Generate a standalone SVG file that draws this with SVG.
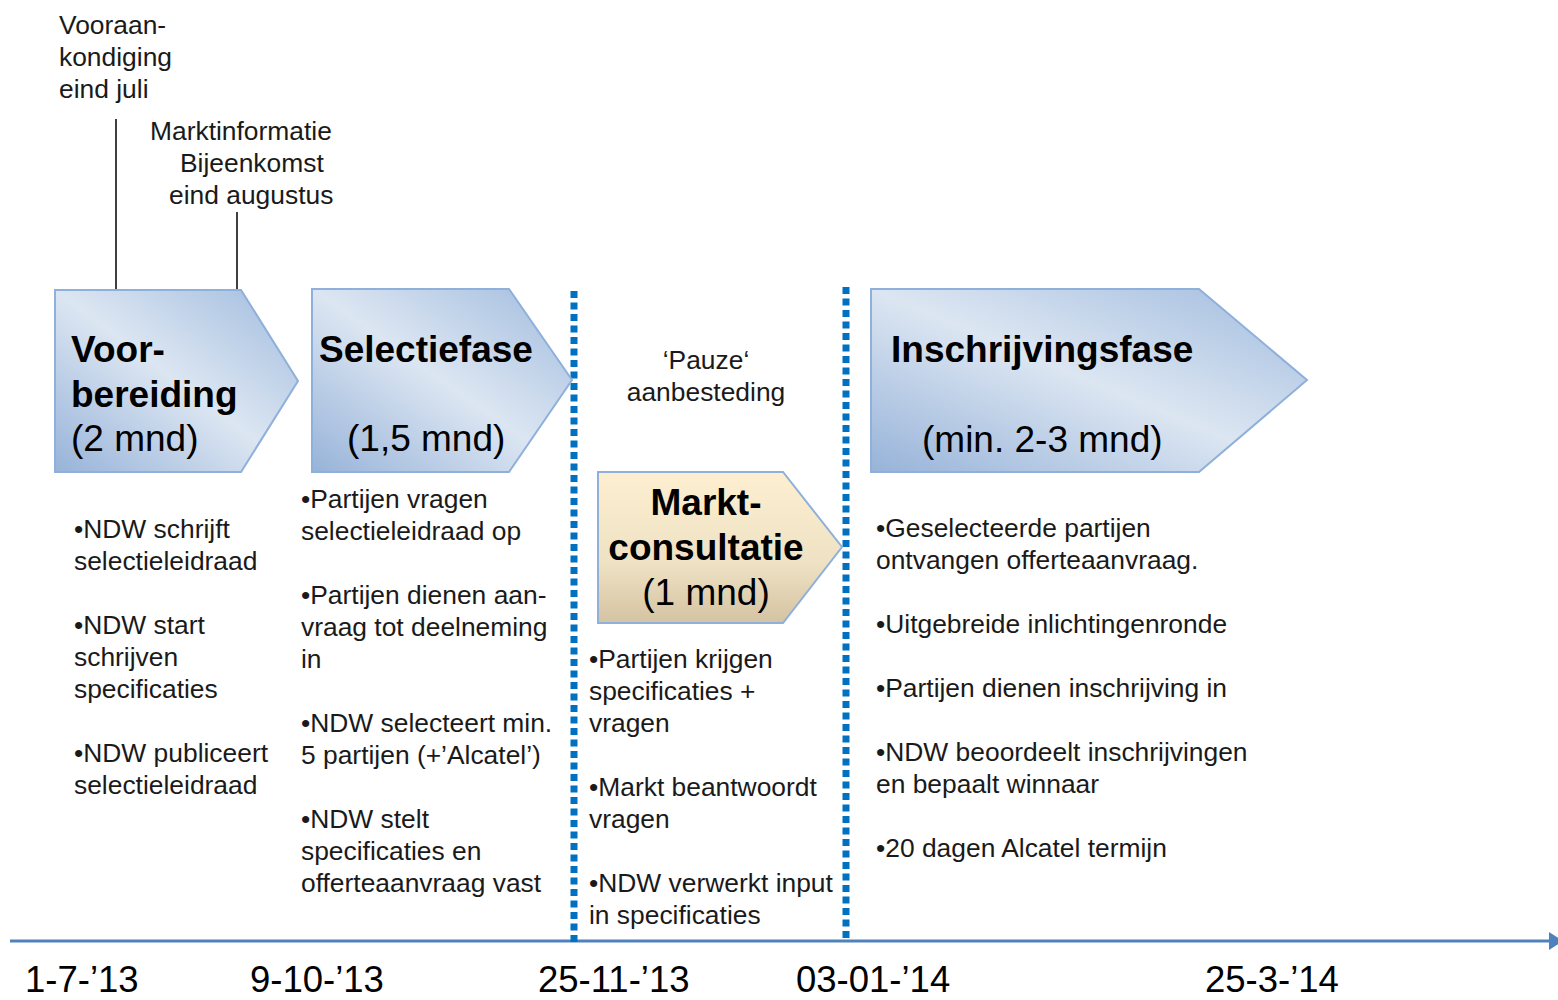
<svg xmlns="http://www.w3.org/2000/svg" width="1558" height="1000" viewBox="0 0 1558 1000">
  <defs>
    <linearGradient id="gBlue" x1="0" y1="1" x2="1" y2="0">
      <stop offset="0" stop-color="#97b3d9"/>
      <stop offset="0.5" stop-color="#dce6f2"/>
      <stop offset="1" stop-color="#a0bbde"/>
    </linearGradient>
    <linearGradient id="gSand" x1="0" y1="0" x2="0" y2="1">
      <stop offset="0" stop-color="#fdefd0"/>
      <stop offset="0.6" stop-color="#efe2c4"/>
      <stop offset="1" stop-color="#d4c3a2"/>
    </linearGradient>
    <style>
      .chev { stroke: #8fb0da; stroke-width: 2; }
      .title { font-family: "Liberation Sans", Arial, sans-serif; font-size: 37px; font-weight: bold; fill: #000; }
      .sub { font-family: "Liberation Sans", Arial, sans-serif; font-size: 37px; fill: #000; }
      .txt { font-family: "Liberation Sans", Arial, sans-serif; font-size: 26.4px; fill: #1a1a1a; }
      .date { font-family: "Liberation Sans", Arial, sans-serif; font-size: 36.5px; fill: #000; }
      .dots { stroke: #0070c0; stroke-width: 7; stroke-dasharray: 7 4.5; fill: none; }
      .lead { stroke: #000; stroke-width: 1.5; }
      .axis { stroke: #4f81bd; stroke-width: 3; }
    </style>
  </defs>

  <g id="connectors">
    <line class="lead" x1="116" y1="119" x2="116" y2="300"/>
    <line class="lead" x1="237" y1="212" x2="237" y2="316"/>
    <line class="axis" x1="10" y1="941" x2="1550" y2="941"/>
    <polygon points="1549,932 1563,941 1549,950" fill="#4f81bd"/>
    <line class="dots" x1="574" y1="291" x2="574" y2="944"/>
    <line class="dots" x1="846" y1="287" x2="846" y2="940"/>
  </g>

  <g id="note-vooraankondiging">
    <text class="txt" x="59" y="34">Vooraan-</text>
    <text class="txt" x="59" y="66">kondiging</text>
    <text class="txt" x="59" y="98">eind juli</text>
  </g>
  <g id="note-marktinformatie">
    <text class="txt" x="150" y="140">Marktinformatie</text>
    <text class="txt" x="180" y="172">Bijeenkomst</text>
    <text class="txt" x="169" y="204">eind augustus</text>
  </g>

  <g id="node-voorbereiding">
    <polygon class="chev" fill="url(#gBlue)" points="55,290 241,290 298,381 241,472 55,472"/>
    <text class="title" x="71" y="362">Voor-</text>
    <text class="title" x="71" y="407">bereiding</text>
    <text class="sub" x="71" y="451">(2 mnd)</text>
  </g>

  <g id="node-selectiefase">
    <polygon class="chev" fill="url(#gBlue)" points="312,289 509,289 572,380 509,472 312,472"/>
    <text class="title" x="319" y="362">Selectiefase</text>
    <text class="sub" x="347" y="451">(1,5 mnd)</text>
  </g>

  <g id="node-pauze">
    <text class="txt" x="706" y="369" text-anchor="middle">‘Pauze‘</text>
    <text class="txt" x="706" y="401" text-anchor="middle">aanbesteding</text>
  </g>

  <g id="node-marktconsultatie">
    <polygon class="chev" fill="url(#gSand)" points="598,472 783,472 842,547 783,623 598,623"/>
    <text class="title" x="706" y="515" text-anchor="middle">Markt-</text>
    <text class="title" x="706" y="560" text-anchor="middle">consultatie</text>
    <text class="sub" x="706" y="605" text-anchor="middle">(1 mnd)</text>
  </g>

  <g id="node-inschrijvingsfase">
    <polygon class="chev" fill="url(#gBlue)" points="871,289 1199,289 1307,380 1199,472 871,472"/>
    <text class="title" x="891" y="362">Inschrijvingsfase</text>
    <text class="sub" x="922" y="452">(min. 2-3 mnd)</text>
  </g>

  <g id="list-voorbereiding">
    <text class="txt" x="74" y="538">•NDW schrijft</text>
    <text class="txt" x="74" y="570">selectieleidraad</text>
    <text class="txt" x="74" y="634">•NDW start</text>
    <text class="txt" x="74" y="666">schrijven</text>
    <text class="txt" x="74" y="698">specificaties</text>
    <text class="txt" x="74" y="762">•NDW publiceert</text>
    <text class="txt" x="74" y="794">selectieleidraad</text>
  </g>

  <g id="list-selectiefase">
    <text class="txt" x="301" y="508">•Partijen vragen</text>
    <text class="txt" x="301" y="540">selectieleidraad op</text>
    <text class="txt" x="301" y="604">•Partijen dienen aan-</text>
    <text class="txt" x="301" y="636">vraag tot deelneming</text>
    <text class="txt" x="301" y="668">in</text>
    <text class="txt" x="301" y="732">•NDW selecteert min.</text>
    <text class="txt" x="301" y="764">5 partijen (+’Alcatel’)</text>
    <text class="txt" x="301" y="828">•NDW stelt</text>
    <text class="txt" x="301" y="860">specificaties en</text>
    <text class="txt" x="301" y="892">offerteaanvraag vast</text>
  </g>

  <g id="list-marktconsultatie">
    <text class="txt" x="589" y="668">•Partijen krijgen</text>
    <text class="txt" x="589" y="700">specificaties +</text>
    <text class="txt" x="589" y="732">vragen</text>
    <text class="txt" x="589" y="796">•Markt beantwoordt</text>
    <text class="txt" x="589" y="828">vragen</text>
    <text class="txt" x="589" y="892">•NDW verwerkt input</text>
    <text class="txt" x="589" y="924">in specificaties</text>
  </g>

  <g id="list-inschrijvingsfase">
    <text class="txt" x="876" y="537">•Geselecteerde partijen</text>
    <text class="txt" x="876" y="569">ontvangen offerteaanvraag.</text>
    <text class="txt" x="876" y="633">•Uitgebreide inlichtingenronde</text>
    <text class="txt" x="876" y="697">•Partijen dienen inschrijving in</text>
    <text class="txt" x="876" y="761">•NDW beoordeelt inschrijvingen</text>
    <text class="txt" x="876" y="793">en bepaalt winnaar</text>
    <text class="txt" x="876" y="857">•20 dagen Alcatel termijn</text>
  </g>

  <g id="dates">
    <text class="date" x="25" y="992">1-7-’13</text>
    <text class="date" x="250" y="992">9-10-’13</text>
    <text class="date" x="538" y="992">25-11-’13</text>
    <text class="date" x="796" y="992">03-01-’14</text>
    <text class="date" x="1205" y="992">25-3-’14</text>
  </g>
</svg>
